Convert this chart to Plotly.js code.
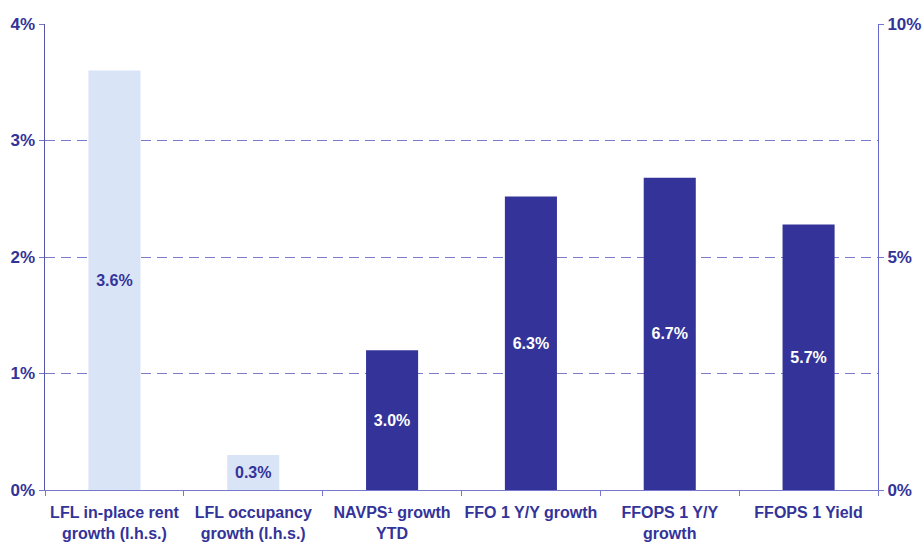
<!DOCTYPE html>
<html>
<head>
<meta charset="utf-8">
<script src="https://cdn.plot.ly/plotly-3.0.1.min.js"></script>
<style>html,body{margin:0;padding:0;background:#fff;}#chart{width:924px;height:542px;}</style>
</head>
<body>
<div id="chart"></div>
<script>
const categories = ["LFL in-place rent<br>growth (l.h.s.)", "LFL occupancy<br>growth (l.h.s.)", "NAVPS¹ growth<br>YTD", "FFO 1 Y/Y growth", "FFOPS 1 Y/Y<br>growth", "FFOPS 1 Yield"];
const leftCats = [categories[0], categories[1]];
const leftValues = [3.6, 0.3];
const rightCats = [categories[2], categories[3], categories[4], categories[5]];
const rightValues = [3.0, 6.3, 6.7, 5.7];

const fmt = v => v.toFixed(1) + "%";
const dark = "#333399";
const light = "#dae4f7";
const font = "Liberation Sans, Arial, sans-serif";

const traces = [
  {
    type: "bar", x: leftCats, y: leftValues, yaxis: "y", width: 0.375,
    marker: {color: light},
    text: leftValues.map(fmt), textposition: "inside", insidetextanchor: "middle",
    textfont: {family: font, size: 16, color: dark, weight: "bold"},
    hoverinfo: "skip"
  },
  {
    type: "bar", x: rightCats, y: rightValues, yaxis: "y2", width: 0.375,
    marker: {color: dark},
    text: rightValues.map(fmt), textposition: "inside", insidetextanchor: "middle",
    textfont: {family: font, size: 16, color: "#ffffff", weight: "bold"},
    hoverinfo: "skip"
  }
];

const layout = {
  width: 924, height: 542,
  margin: {l: 45, r: 46, t: 24, b: 52},
  paper_bgcolor: "#ffffff", plot_bgcolor: "#ffffff",
  showlegend: false,
  barmode: "overlay",
  uniformtext: {mode: false},
  font: {family: font, color: dark},
  xaxis: {
    type: "category", categoryorder: "array", categoryarray: categories,
    tickangle: 0, automargin: false, ticklabelstandoff: 8,
    tickson: "boundaries", ticks: "outside", ticklen: 5, tickcolor: "#7777cc",
    showline: true, linecolor: "#7777cc", linewidth: 1,
    showgrid: false, zeroline: false,
    tickfont: {family: font, size: 16, color: dark, weight: "bold"},
    fixedrange: true
  },
  yaxis: {
    range: [0, 4], dtick: 1, tickformat: ".0f", ticksuffix: "%",
    showgrid: true, gridcolor: "#7b7bcc", griddash: "10px,6px", gridwidth: 1,
    zeroline: false, showline: true, linecolor: "#5555aa", linewidth: 1.5,
    ticks: "outside", ticklen: 5, tickcolor: "#7777cc", automargin: false,
    tickfont: {family: font, size: 17, color: dark, weight: "bold"},
    fixedrange: true
  },
  yaxis2: {
    overlaying: "y", side: "right",
    range: [0, 10], dtick: 5, tickformat: ".0f", ticksuffix: "%",
    showgrid: false, zeroline: false, showline: true, linecolor: "#6666cc", linewidth: 1,
    ticks: "outside", ticklen: 5, tickcolor: "#7777cc", automargin: false,
    tickfont: {family: font, size: 17, color: dark, weight: "bold"},
    fixedrange: true
  }
};

Plotly.newPlot("chart", traces, layout, {displayModeBar: false, staticPlot: true});
</script>
</body>
</html>
